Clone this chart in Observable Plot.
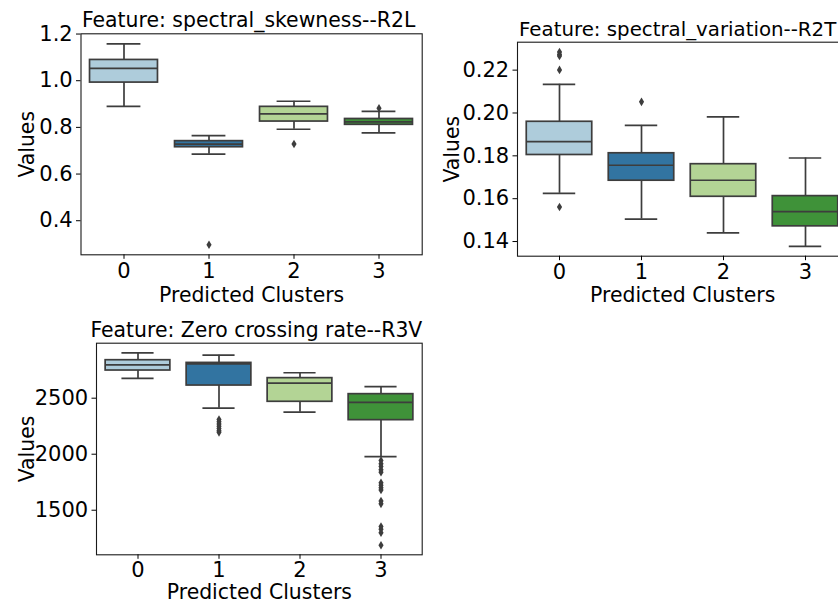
<!DOCTYPE html>
<html>
<head>
<meta charset="utf-8">
<script src="https://cdn.jsdelivr.net/npm/d3@7"></script>
<script src="https://cdn.jsdelivr.net/npm/@observablehq/plot@0.6"></script>
<style>
  html, body { margin: 0; padding: 0; background: #ffffff; }
  body { width: 838px; height: 601px; overflow: hidden; position: relative; }
  .panel { position: absolute; }
</style>
</head>
<body>
<div id="tl" class="panel" style="left:0px;top:0px;width:430px"></div>
<div id="tr" class="panel" style="left:420px;top:0px;width:440px"></div>
<div id="bl" class="panel" style="left:0px;top:300px;width:430px"></div>
<script>
// ---------- data ----------
const clusters = ["0", "1", "2", "3"];
const palette = ["#aeccdb", "#3274a1", "#b3d495", "#3f9239"];

// Feature: spectral_skewness--R2L
const skewTitle = "Feature: spectral_skewness--R2L";
const skewLo  = [0.890, 0.685, 0.792, 0.7765];
const skewQ1  = [0.992, 0.715, 0.825, 0.811];
const skewMed = [1.053, 0.728, 0.858, 0.8235];
const skewQ3  = [1.089, 0.741, 0.888, 0.836];
const skewHi  = [1.158, 0.765, 0.912, 0.869];
const skewOutCluster = ["1", "2", "3"];
const skewOutValue   = [0.297, 0.729, 0.882];
const skewTicks = [0.4, 0.6, 0.8, 1.0, 1.2];

// Feature: spectral_variation--R2T
const varTitle = "Feature: spectral_variation--R2T";
const varLo  = [0.1625, 0.1505, 0.1440, 0.1377];
const varQ1  = [0.1804, 0.1684, 0.1609, 0.1471];
const varMed = [0.1866, 0.1756, 0.1686, 0.1540];
const varQ3  = [0.1959, 0.1812, 0.1761, 0.1612];
const varHi  = [0.2134, 0.1942, 0.1982, 0.1790];
const varOutCluster = ["0", "0", "0", "0", "0", "1"];
const varOutValue   = [0.2285, 0.2273, 0.2266, 0.2201, 0.1561, 0.2052];
const varTicks = [0.14, 0.16, 0.18, 0.20, 0.22];

// Feature: Zero crossing rate--R3V
const zcrTitle = "Feature: Zero crossing rate--R3V";
const zcrLo  = [2676, 2411, 2375, 1979];
const zcrQ1  = [2747, 2613, 2468, 2304];
const zcrMed = [2798, 2806, 2634, 2462];
const zcrQ3  = [2839, 2815, 2679, 2536];
const zcrHi  = [2905, 2884, 2727, 2604];
const zcrOutCluster = ["1", "1", "1", "1", "1", "1", "1",
  "3", "3", "3", "3", "3", "3", "3", "3", "3", "3", "3", "3", "3", "3", "3"];
const zcrOutValue = [2310, 2290, 2270, 2250, 2230, 2210, 2195,
  1944, 1915, 1890, 1862, 1840, 1745, 1722, 1700, 1680, 1582, 1557, 1355, 1330, 1300, 1188];
const zcrTicks = [1500, 2000, 2500];

const xLabel = "Predicted Clusters";
const yLabel = "Values";

// ---------- helpers ----------
const lineColor = "#3d3d3d";
const TICK_FONT = 21;
const LABEL_FONT = 20.4;

const thinDiamond = {
  draw(context, size) {
    const r = Math.sqrt(size / Math.PI);
    const w = r * 0.6;
    context.moveTo(0, -r);
    context.lineTo(w, 0);
    context.lineTo(0, r);
    context.lineTo(-w, 0);
    context.closePath();
  }
};

function stats(lo, q1, med, q3, hi) {
  return clusters.map((c, i) => ({cluster: c, lo: lo[i], q1: q1[i], med: med[i], q3: q3[i], hi: hi[i]}));
}
function outliers(cs, vs) {
  return cs.map((c, i) => ({cluster: c, value: vs[i]}));
}
function paddedDomain(rows, outs) {
  const vals = rows.flatMap(d => [d.lo, d.hi]).concat(outs.map(d => d.value));
  const lo = d3.min(vals), hi = d3.max(vals), pad = (hi - lo) * 0.05;
  return [lo - pad, hi + pad];
}

function panel({title, rows, outs, ticks, fmt, width, height, ml, mr, mt, mb, yLabelOffset, xLabelOffset, xTickPad, titleShift, titleFont}) {
  const step = (width - ml - mr) / clusters.length;
  const boxInset = step * 0.1;
  const capInset = step * 0.3;
  const sw = 1.7;
  return Plot.plot({
    width, height,
    marginLeft: ml, marginRight: mr, marginTop: mt, marginBottom: mb,
    style: {fontFamily: "'DejaVu Sans', sans-serif", fontSize: TICK_FONT + "px", color: "black",
            background: "transparent", overflow: "visible", maxWidth: "none", width: width + "px", height: height + "px"},
    x: {type: "band", domain: clusters, padding: 0, label: null},
    y: {domain: paddedDomain(rows, outs), label: null},
    color: {domain: clusters, range: palette},
    marks: [
      // whiskers
      Plot.ruleX(rows, {x: "cluster", y1: "lo", y2: "q1", stroke: lineColor, strokeWidth: sw}),
      Plot.ruleX(rows, {x: "cluster", y1: "q3", y2: "hi", stroke: lineColor, strokeWidth: sw}),
      // boxes
      Plot.barY(rows, {x: "cluster", y1: "q1", y2: "q3", fill: "cluster", stroke: lineColor, strokeWidth: sw, insetLeft: boxInset, insetRight: boxInset}),
      // medians
      Plot.tickY(rows, {x: "cluster", y: "med", stroke: lineColor, strokeWidth: sw, insetLeft: boxInset, insetRight: boxInset}),
      // caps
      Plot.tickY(rows, {x: "cluster", y: "lo", stroke: lineColor, strokeWidth: sw, insetLeft: capInset, insetRight: capInset}),
      Plot.tickY(rows, {x: "cluster", y: "hi", stroke: lineColor, strokeWidth: sw, insetLeft: capInset, insetRight: capInset}),
      // fliers
      Plot.dot(outs, {x: "cluster", y: "value", symbol: thinDiamond, r: 4.3, fill: lineColor, stroke: "none"}),
      // frame & axes
      Plot.frame({stroke: "#1a1a1a", strokeWidth: 1.1}),
      Plot.axisY({ticks, tickFormat: d3.format(fmt), tickSize: 4.5, tickPadding: 3.8, label: null, fontSize: TICK_FONT}),
      Plot.axisX({tickSize: 4.5, tickPadding: xTickPad, label: null, fontSize: TICK_FONT}),
      // texts
      Plot.text([title], {text: d => d, frameAnchor: "top", dy: -6.5, dx: titleShift, lineAnchor: "bottom", fontSize: titleFont}),
      Plot.text([xLabel], {text: d => d, frameAnchor: "bottom", dy: xLabelOffset, lineAnchor: "bottom", fontSize: LABEL_FONT}),
      Plot.text([yLabel], {text: d => d, frameAnchor: "left", dx: -yLabelOffset, rotate: -90, lineAnchor: "bottom", textAnchor: "middle", fontSize: LABEL_FONT})
    ]
  });
}

const skewRows = stats(skewLo, skewQ1, skewMed, skewQ3, skewHi);
const skewOuts = outliers(skewOutCluster, skewOutValue);
const varRows = stats(varLo, varQ1, varMed, varQ3, varHi);
const varOuts = outliers(varOutCluster, varOutValue);
const zcrRows = stats(zcrLo, zcrQ1, zcrMed, zcrQ3, zcrHi);
const zcrOuts = outliers(zcrOutCluster, zcrOutValue);

document.getElementById("tl").appendChild(panel({
  title: skewTitle, rows: skewRows, outs: skewOuts, ticks: skewTicks, fmt: ".1f",
  width: 430, height: 305, ml: 80.5, mr: 8.3, mt: 33.3, mb: 50.7, yLabelOffset: 46.7, xLabelOffset: 47.5, xTickPad: 3.4, titleShift: -3, titleFont: LABEL_FONT
}));
document.getElementById("tr").appendChild(panel({
  title: varTitle, rows: varRows, outs: varOuts, ticks: varTicks, fmt: ".2f",
  width: 440, height: 310, ml: 97, mr: 12.7, mt: 41.7, mb: 54.3, yLabelOffset: 59, xLabelOffset: 45.5, xTickPad: 3.2, titleShift: -5, titleFont: 19.8
}));
document.getElementById("bl").appendChild(panel({
  title: zcrTitle, rows: zcrRows, outs: zcrOuts, ticks: zcrTicks, fmt: "d",
  width: 430, height: 301, ml: 96, mr: 8.3, mt: 42.7, mb: 46.7, yLabelOffset: 62.7, xLabelOffset: 43.8, xTickPad: 2.6, titleShift: -3, titleFont: LABEL_FONT
}));
</script>
</body>
</html>
